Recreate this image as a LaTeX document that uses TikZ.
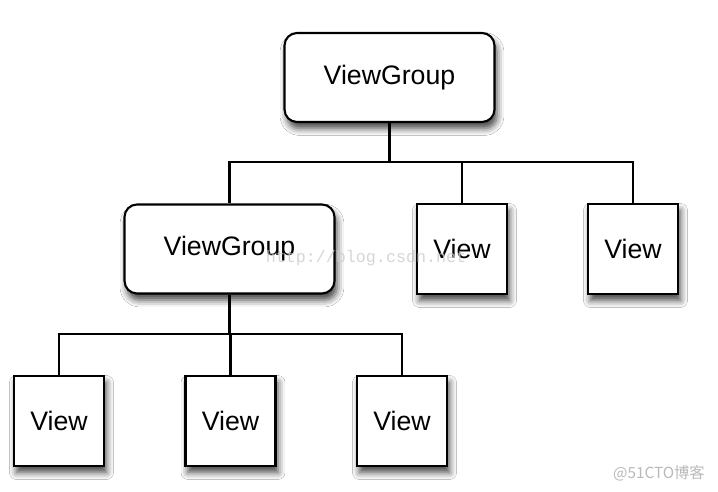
\documentclass[tikz,border=0pt]{standalone}
\usepackage{fontspec}
\setmainfont{Liberation Sans}
\newfontfamily\cjk{Noto Sans CJK SC}
\newfontfamily\urlfont{Liberation Mono}
\usepackage{tikz}
\usetikzlibrary{shadows.blur}
\usetikzlibrary{calc,positioning}

\tikzset{
    boxshadow/.style={blur shadow={shadow xshift=0.05cm, shadow yshift=-0.13cm,
        shadow blur radius=0.14cm, shadow opacity=75}},
    groupbox/.style={draw, line width=1.2pt, fill=white, rounded corners=0.25cm,
        minimum width=4.2cm, minimum height=1.78cm, boxshadow,
        font=\fontsize{15.2}{18}\selectfont},
    viewbox/.style={draw, line width=1.2pt, fill=white,
        minimum width=1.8cm, minimum height=1.8cm, boxshadow,
        font=\fontsize{15.2}{18}\selectfont},
    link/.style={line width=1.2pt}
}

\begin{document}
\begin{tikzpicture}[x=0.02cm, y=-0.02cm]

    % Frame
    \fill[white] (0,0) rectangle (718,492);
    \useasboundingbox (0,0) rectangle (718,492);

    % Buses
    \coordinate (topbus) at (0,162);
    \coordinate (lowbus) at (0,334);

    % Boxes
    \node[groupbox] (root) at (389.5,77.5) {ViewGroup};
    \node[groupbox] (group) at (229.5,249) {ViewGroup};
    \node[viewbox] (view1) at (462,249) {View};
    \node[viewbox] (view2) at (633,249) {View};
    \foreach \x/\n in {59/a, 230.5/b, 402/c} {
        \node[viewbox] (leaf\n) at (\x,421) {View};
    }

    % Links
    \draw[link] (root.south) -- (root.south |- topbus);
    \foreach \c in {group, view1, view2} {
        \draw[link] (root.south |- topbus) -| (\c.north);
    }
    \draw[link] (group.south) -- (group.south |- lowbus);
    \foreach \c in {leafa, leafb, leafc} {
        \draw[link] (group.south |- lowbus) -| (\c.north);
    }

    % Watermarks
    \node[text=gray!40, opacity=0.8, font=\urlfont\fontsize{9.5}{11}\selectfont] (url) at (366,258) {http://blog.csdn.net};
    \node[text=gray!55, font=\cjk\fontsize{8.7}{10}\selectfont] (mark) at (659,473) {@51CTO博客};

\end{tikzpicture}
\end{document}
